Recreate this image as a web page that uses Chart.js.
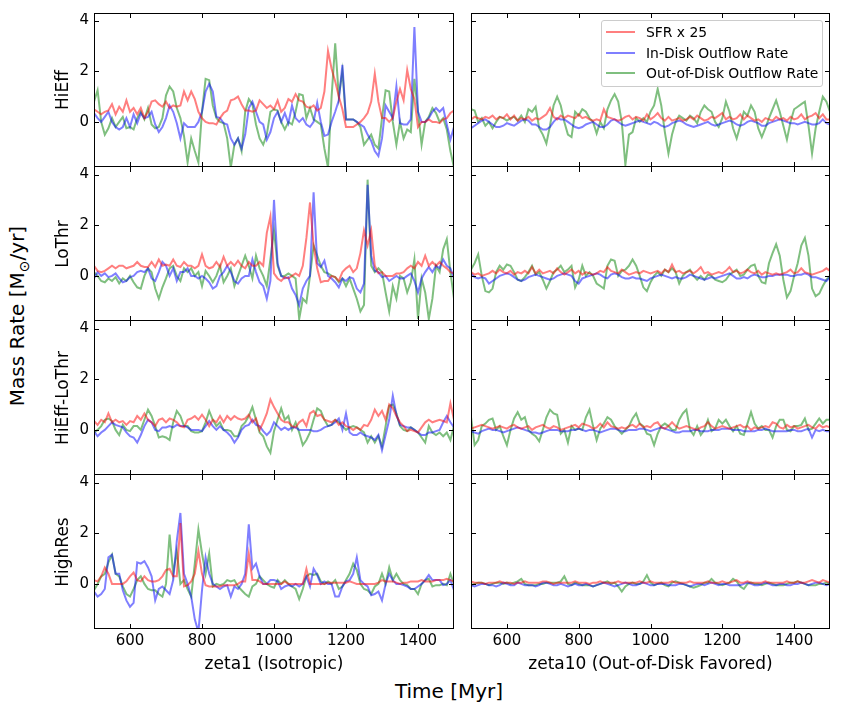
<!DOCTYPE html>
<html>
<head>
<meta charset="utf-8">
<script src="https://cdn.jsdelivr.net/npm/chart.js@4.4.1/dist/chart.umd.min.js"></script>
<style>
  body { margin: 0; background: #fff; }
  #fig { position: relative; width: 848px; height: 708px; font-family: 'DejaVu Sans', sans-serif; color: #000; overflow: hidden; }
  .panel { position: absolute; }
  .label { position: absolute; white-space: nowrap; font-size: 20px; transform: translate(-50%, -50%); }
  #ylabel { left: 18px; top: 316px; transform: translate(-50%, -50%) rotate(-90deg); }
  #xlabel { left: 449px; top: 691px; }
  #ylabel sub { font-size: 0.7em; }
  #legend { position: absolute; left: 601px; top: 20px; width: 220px; height: 65px; border: 1px solid #cccccc;
            border-radius: 3px; background: rgba(255,255,255,0.8); font-size: 13.9px; z-index: 5; }
  .entry { position: absolute; left: 4px; height: 20px; display: flex; align-items: center; }
  .swatch { width: 29px; height: 2px; margin-right: 11px; }
</style>
</head>
<body>
<div id="fig">
  <div class="label" id="ylabel">Mass Rate [M<sub>⊙</sub>/yr]</div>
  <div class="label" id="xlabel">Time [Myr]</div>
  <div id="legend"></div>
</div>
<script>
// time axis (Myr)
const times = [500, 510, 520, 530, 540, 550, 560, 570, 580, 590,
  600, 610, 620, 630, 640, 650, 660, 670, 680, 690,
  700, 710, 720, 730, 740, 750, 760, 770, 780, 790,
  800, 810, 820, 830, 840, 850, 860, 870, 880, 890,
  900, 910, 920, 930, 940, 950, 960, 970, 980, 990,
  1000, 1010, 1020, 1030, 1040, 1050, 1060, 1070, 1080, 1090,
  1100, 1110, 1120, 1130, 1140, 1150, 1160, 1170, 1180, 1190,
  1200, 1210, 1220, 1230, 1240, 1250, 1260, 1270, 1280, 1290,
  1300, 1310, 1320, 1330, 1340, 1350, 1360, 1370, 1380, 1390,
  1400, 1410, 1420, 1430, 1440, 1450, 1460, 1470, 1480, 1490,
  1500];

const rowNames = ['HiEff', 'LoThr', 'HiEff-LoThr', 'HighRes'];
const columnTitles = ['zeta1 (Isotropic)', 'zeta10 (Out-of-Disk Favored)'];
const seriesNames = ['SFR x 25', 'In-Disk Outflow Rate', 'Out-of-Disk Outflow Rate'];
const xTicks = [600, 800, 1000, 1200, 1400];
const yTicks = [0, 2, 4];

// ---- zeta1 (Isotropic) ----
const sfrHiEffIso = [0.5, 0.4, 0.3, 0.4, 0.45, 0.7, 0.3, 0.6, 0.4, 0.85,
  0.4, 0.55, 0.3, 0.55, 0.15, 0.4, 0.8, 0.85, 0.7, 0.6,
  0.8, 0.55, 0.65, 0.6, 0.65, 1.2, 0.85, 1.2, 0.9, 0.4,
  0.15, 0, -0.05, -0.05, -0.1, 0.15, 0.35, 0.45, 0.85, 0.9,
  1.0, 0.7, 0.45, 0.45, 0.4, 0.45, 0.85, 0.7, 0.55, 0.65,
  0.5, 0.85, 0.4, 0.55, 0.9, 0.8, 1.1, 0.85, 0.8, 0.6,
  0.55, 0.65, 0.45, 0.55, 1.2, 2.8, 2.1, 1.6, 1.0, 0.5,
  -0.2, -0.2, -0.2, -0.1, 0, 0.15, 0.35, 0.8, 1.9, 0.8,
  0.15, 0.15, 0, 0.15, 0.8, 1.3, 0.85, 2.05, 1.3, 0.9,
  -0.2, 0, 0, 0.1, 0, 0, -0.05, 0.1, 0.15, 0.35,
  0.45];
const inDiskHiEffIso = [0.35, 0.15, 0, 0.2, 0.4, 0, -0.2, -0.3, -0.2, 0.15,
  -0.2, 0.3, -0.05, 0.35, 0.15, 0.2, 0.4, -0.1, -0.4, -0.2,
  0.15, 0.65, 0.4, -0.05, -0.65, -0.05, -0.2, -0.2, -0.2, 0,
  0.4, 1.2, 1.5, 1.2, 0.2, 0.15, -0.05, -0.1, -0.65, -0.9,
  -0.65, -1.05, -0.5, 0.55, 0.8, 0.4, 0, -0.1, -0.7, -0.4,
  0.15, 0.4, 0, 0.35, -0.05, 0.65, 0.15, 0, 0.15, -0.1,
  -0.2, 0, 0.75, 0, -0.55, -0.5, 0, 0.4, 0.85, 2.25,
  0.1, 0.1, 0.1, 0, -0.1, -0.2, -0.5, -0.75, -1.15, -1.35,
  -0.65, 0.65, 0.4, 0.15, 1.4, -0.05, -0.1, -0.1, 0.1, 3.75,
  0.4, 0, 0, 0.15, 0.4, 0.55, 0.4, 0.55, -0.1, -0.7,
  -0.2];
const outDiskHiEffIso = [0.8, 1.25, 0, -0.5, -0.25, 0.15, -0.2, 0, 0.2, -0.25,
  -0.2, -0.3, 0.15, 0.4, 0.1, 0.55, -0.1, -0.25, -0.2, 0.15,
  1.05, 1.4, 1.2, 0.55, 0.15, -0.55, -1.6, -0.65, -1.15, -1.6,
  0.4, 1.7, 1.65, 0.65, 0.15, 0, -0.05, -0.65, -1.8, -0.9,
  -0.65, -1.15, 0.4, 0.9, 0.7, -0.1, -0.65, -0.9, -0.5, 0.4,
  0.5, 0.45, 0, -0.3, 0, -0.1, 0.4, 1.1, 1.05, 0.15,
  0.55, 0.1, 0, -0.1, -1.05, -1.8, 1.0, 3.1, 1.0, 2.0,
  0.1, 0.1, 0.1, 0, -0.2, -0.9, -0.7, -0.5, -0.9, -1.05,
  0.15, 1.25, 1.2, 0, -0.9, 0, -0.65, -0.3, -0.4, 1.7,
  0.4, -0.9, 0, 0.2, 0.55, 0.35, 0, 0.15, -0.3, -1.15,
  -1.8];

const sfrLoThrIso = [0.4, 0.2, 0.15, 0.2, 0.3, 0.4, 0.3, 0.4, 0.4, 0.3,
  0.35, 0.4, 0.55, 0.4, 0.35, 0.35, 0.55, 0.35, 0.65, 0.4,
  0.45, 0.4, 0.65, 0.4, 0.35, 0.55, 0.4, 0.4, 0.3, 0.4,
  0.85, 0.4, 0.3, 0.35, 0.55, 0.35, 0.75, 0.4, 0.55, 0.4,
  0.6, 0.4, 0.3, 0.55, 0.4, 0.4, 0.55, 0.4, 1.7, 2.35,
  0.1, -0.1, -0.2, -0.05, -0.1, 0, 0.1, 0, 0.4, 1.5,
  2.9, 1.2, 0.3, -0.25, -0.2, -0.2, 0, -0.05, -0.2, 0.15,
  0.3, 0.4, 0.15, 0.3, 0.9, 1.8, 1.2, 1.8, 0.4, 0.1,
  0.15, 0, 0, 0, 0.1, 0.1, 0.15, 0.3, 0.4, 0.3,
  0.55, 0.4, 0.8, 0.4, 0.55, 0.4, 0.55, 0.4, 0.3, 0.15,
  0.1];
const inDiskLoThrIso = [-0.1, 0.15, 0, 0.1, -0.05, 0, 0.1, -0.1, -0.25, -0.2,
  -0.05, 0, 0.15, 0.2, 0.15, 0.3, -0.1, -0.2, 0.15, 0.55,
  0.4, 0, 0.3, -0.2, 0.15, 0.15, 0.3, 0, 0, -0.1,
  0, -0.1, -0.25, -0.5, -0.4, 0, 0.15, 0.4, 0.15, -0.2,
  -0.3, -0.1, 0, 0, 0.65, 0.15, -0.25, -0.4, -0.9, -0.2,
  3.0, 0.5, 0, -0.1, -0.05, -0.5, -0.75, -1.15, -0.5, -0.2,
  0, 3.3, 0.5, 0.35, 0.6, 0, -0.1, -0.25, -0.45, -0.1,
  -0.2, -0.05, -0.1, -0.5, -0.65, -0.3, 3.6, 0.8, 0.2, 0.15,
  -0.05, 0, -0.2, -0.1, 0, -0.1, -0.1, 0, 0.1, -0.2,
  -0.65, -0.1, 0.15, 0.35, 0.15, 0.4, 0.3, 0.65, 0.4, 0.3,
  -0.1];
const outDiskLoThrIso = [0.15, 0, -0.2, -0.25, -0.1, -0.2, -0.05, -0.3, -0.1, -0.2,
  0, -0.25, -0.45, -0.5, 0, 0.3, 0.15, -0.5, -0.9, -0.45,
  -0.1, 0.3, 0.4, 0, -0.2, 0.3, 0.15, 0.3, 0, 0.15,
  -0.4, 0.2, 0, -0.25, 0, 0.4, -0.25, 0, 0.3, -0.4,
  0, 0.4, 0.8, 0.4, -0.1, 0.8, 0.3, 0, -0.4, 0.65,
  1.8, 0.4, 0, 0, 0.1, 0, -0.1, -1.7, -0.9, -1.05,
  0, 1.2, 0.8, 0.4, 0.15, 0.1, 0, -0.05, -0.25, -0.1,
  -0.4, -0.1, -0.5, -0.9, -1.4, -1.15, 3.8, 0.4, 0.15, 0.3,
  0.15, -0.65, -1.4, -0.4, -0.9, 0, -0.1, -0.65, -0.25, 0.65,
  -1.7, -0.1, -0.65, -1.7, -0.9, 0.4, 0.15, 1.05, 1.45, 0.15,
  -0.9];

const sfrHiEffLoThrIso = [0.35, 0.2, 0.4, 0.3, 0.65, 0.3, 0.4, 0.3, 0.35, 0.2,
  0.35, 0.3, 0.55, 0.4, 0.65, 0.4, 0.3, 0.15, 0.4, 0.45,
  0.3, 0.45, 0.4, 0.3, 0.15, 0.1, 0.4, 0.45, 0.55, 0.4,
  0.6, 0.4, 0.15, 0.4, 0.3, 0.55, 0.3, 0.55, 0.4, 0.55,
  0.45, 0.4, 0.45, 0.6, 0.3, 0.45, 0, 0.3, 0.65, 1.2,
  0.9, 0.65, 0.4, 0.3, 0.3, 0.15, 0.1, 0.3, 0.4, 0.15,
  0.65, 0.75, 0.55, 0.6, 0.4, 0.35, 0.3, 0.4, 0.2, 0.3,
  0.15, 0.1, 0, 0.1, 0, 0.2, 0.15, 0.4, 0.8, 0.55,
  0.75, 0.4, 1.0, 0.85, 0.55, 0.3, 0.15, -0.05, 0, -0.05,
  -0.1, 0.1, 0.3, 0.4, 0.3, 0.35, 0.4, 0.35, 0.3, 1.05,
  0.4];
const inDiskHiEffLoThrIso = [-0.05, -0.25, -0.1, 0, 0.15, 0.3, 0.2, 0.15, 0.1, -0.1,
  -0.25, -0.3, -0.5, -0.2, 0.15, 0.4, 0.3, 0, -0.05, 0.1,
  0.1, 0.15, 0.1, 0.2, 0.15, 0.15, 0.1, 0, 0, 0,
  -0.05, 0.15, 0.35, 0.15, 0, 0.15, 0, -0.1, -0.25, -0.5,
  -0.3, 0, 0.15, 0.2, 0.4, 0.2, 0.15, -0.05, -0.2, -0.05,
  0.3, 0.15, 0, 0.1, 0, 0.1, 0.1, 0, 0, 0,
  0, -0.05, -0.05, 0, 0.1, 0.15, 0.2, 0.3, 0.45, 0,
  0.65, -0.1, -0.2, -0.2, -0.1, -0.2, -0.25, -0.3, -0.4, -0.2,
  -0.8, -0.2, 0.4, 1.35, 0.6, 0.2, 0.15, 0.1, 0.1, 0,
  -0.1, -0.2, -0.2, -0.1, -0.1, -0.05, 0, 0.3, 0.55, 0.3,
  0.1];
const outDiskHiEffLoThrIso = [-0.1, 0, 0.15, 0.4, 0.45, 0.35, 0, -0.2, 0.2, 0,
  -0.05, 0.15, 0.15, 0, 0.4, 0.8, 0.55, 0.15, -0.3, -0.25,
  -0.3, -0.4, 0.3, 0.75, 0.55, 0.15, 0.15, -0.05, -0.1, -0.1,
  -0.05, 0.3, 0.75, 0.4, 0.15, 0.3, 0, 0, -0.05, -0.25,
  -0.25, 0.15, 0.3, 0.55, 0.9, 0.4, -0.1, -0.25, -0.65, -0.9,
  -0.05, 0.4, 0.85, 0.4, 0.55, 0, 0.3, -0.1, -0.6, -0.4,
  -0.1, 0.4, 0.85, 0.75, 0.4, 0.15, 0.2, 0.4, 0.3, 0.15,
  0, 0.1, 0.15, 0.1, 0, -0.1, -0.5, -0.25, -0.5, -0.25,
  -0.65, 0.15, 0.95, 1.0, 0.65, 0.15, 0, -0.05, 0.1, 0,
  -0.1, -0.3, -0.5, 0.15, -0.1, -0.2, -0.1, -0.25, -0.1, -0.4,
  0.15];

const sfrHighResIso = [0.15, 0.1, 0.3, 0.65, 0.4, 0, 0, 0, 0, 0.1,
  0.3, 0.45, 0.15, 0.1, 0.3, 0.15, 0.1, 0.1, 0.15, 0.3,
  0.55, 0.6, 0.3, 0.3, 2.4, -0.1, -0.05, 0.1, 0.4, 1.3,
  0.4, -0.05, -0.1, -0.1, -0.1, -0.1, -0.05, -0.05, -0.05, -0.05,
  0, 0.1, 0.1, 1.2, 0.15, 0.15, 0.1, 0, 0, 0,
  0, 0, 0, 0.1, 0, 0, 0, 0, 0, 0.6,
  0, 0, 0, 0, 0, 0.05, 0.05, 0.05, 0.05, 0.05,
  0.05, 0.1, 0.05, 0, 0, 0, 0, 0, 0, 0.05,
  0.15, 0.1, 0.1, 0.1, 0.05, 0, 0.05, 0.05, 0.1, 0.1,
  0.1, 0.15, 0.1, 0.1, 0.1, 0.15, 0.15, 0.15, 0.2, 0.15,
  0.1];
const inDiskHighResIso = [-0.3, -0.5, -0.4, -0.2, 1.05, 1.15, 0.4, 0.4, -0.25, -0.65,
  -0.9, -0.75, 0.85, 0.8, 0.9, 0.65, 0.3, -0.65, -0.2, -0.1,
  -0.25, -0.4, 0.15, 1.7, 2.8, 0.4, 0, -0.5, -1.4, -1.9,
  -0.25, 1.05, 0.4, 0, -0.1, -0.2, -0.1, -0.05, -0.5, -0.1,
  -0.2, 0, 0.4, 2.35, 0.6, 0.8, 0.3, 0, 0, 0.15,
  0.15, 0.1, -0.2, -0.1, -0.05, -0.1, 0, -0.1, 0, 0.3,
  -0.1, 0.6, 0.35, 0, 0.1, 0, 0, -0.5, -0.5, -0.1,
  0.1, 0.15, 0.4, 1.05, 0.15, 0, -0.1, -0.45, -0.4, -0.3,
  -0.65, 0, 0.4, 0.15, 0, 0, -0.05, -0.1, -0.2, -0.2,
  -0.1, 0, 0.15, 0.35, 0.15, 0.15, 0.15, -0.05, 0, 0.15,
  -0.25];
const outDiskHighResIso = [-0.25, 0, 0.3, 0.4, 0.85, 1.15, 0.4, 0.3, -0.1, -0.4,
  -0.5, -0.2, 0.15, 0.3, 0, -0.2, -0.25, -0.25, -0.4, -0.5,
  0, 1.95, 0.4, 1.3, 0, 0.15, -0.2, -0.5, 0.8, 2.15,
  1.2, 0.4, 1.2, -0.1, 0, -0.05, 0, 0.15, 0.1, 0.15,
  -0.1, -0.25, -0.4, -0.5, -0.1, 0, 0.3, 0.15, 0, -0.1,
  -0.15, 0.15, 0, 0.15, 0, -0.1, -0.2, -0.6, -0.2, 0.3,
  0.4, 0.35, 0.4, 0.1, 0, 0.1, 0, 0.15, -0.2, -0.1,
  0.15, 0.4, 0.8, 0.55, 0, -0.2, -0.25, -0.4, -0.1, 0,
  0.4, 0, 0.65, 0.15, 0.4, 0.15, 0, -0.05, -0.2, -0.2,
  -0.4, 0, 0.15, 0.2, -0.1, -0.05, -0.05, 0, -0.05, 0.4,
  0];

// ---- zeta10 (Out-of-Disk Favored) ----
const sfrHiEffFav = [0.1, 0.2, 0.15, 0.1, 0.2, 0.15, 0.25, 0.1, 0.2, 0.15,
  0.3, 0.1, 0.25, 0.05, 0.15, 0.1, 0.2, 0.05, 0.15, 0.1,
  0.2, 0.3, 0.55, 0.2, 0.1, 0.25, 0.15, 0.25, 0.2, 0.15,
  0.3, 0.15, 0.2, 0.1, 0.05, 0.1, 0.05, 0.5, 0.2, 0.15,
  0.1, 0.05, 0.1, 0.2, 0.25, 0.1, 0.2, 0.15, 0.05, 0.3,
  0.1, 0.2, 0.35, 0.15, 0.05, 0.2, 0.05, 0.1, 0.15, 0.05,
  0.1, 0.2, 0.1, 0.25, 0.15, 0.05, 0.1, 0.2, 0.15, 0.25,
  0.35, 0.1, 0.2, 0.1, 0.15, 0.3, 0.1, 0.25, 0.15, 0.05,
  0.1, 0, 0.15, 0.1, 0.05, 0.2, 0.1, 0.15, 0.05, 0.2,
  0.1, 0.15, 0.3, 0.1, 0.2, 0.25, 0.35, 0.15, 0.3, 0.1,
  0.1];
const inDiskHiEffFav = [-0.25, -0.15, -0.05, 0.05, 0.1, 0, -0.1, -0.2, -0.2, -0.15,
  -0.05, -0.1, -0.15, -0.05, 0.05, 0.1, 0.05, -0.1, -0.1, -0.2,
  -0.3, -0.3, -0.2, 0, 0.15, 0.1, 0.1, 0, -0.1, -0.2,
  -0.25, -0.2, -0.1, -0.05, 0, -0.1, -0.2, -0.2, -0.1, 0.05,
  0.1, 0, -0.1, -0.15, -0.1, -0.05, 0, 0.05, 0, -0.05,
  -0.1, 0, -0.05, -0.15, -0.2, -0.15, -0.05, 0, 0.05, 0,
  -0.1, -0.15, -0.2, -0.15, -0.1, -0.05, 0, -0.1, -0.15, -0.1,
  -0.05, 0, 0.05, 0, -0.1, -0.15, -0.1, 0, 0.05, 0,
  -0.05, -0.15, -0.15, -0.05, 0, 0.05, 0.1, 0.05, 0, -0.05,
  -0.05, -0.1, -0.05, 0, -0.05, -0.1, -0.1, -0.05, 0.1, -0.05,
  -0.1];
const outDiskHiEffFav = [0.5, 0.45, 0, 0.15, -0.15, 0, -0.25, 0, 0.2, 0.15,
  0.05, 0.15, 0.2, 0.05, 0.25, 0, 0.5, 0.4, 0.6, -0.25,
  -0.5, -0.85, -0.15, 0.65, 1.0, 0.65, 0, -0.5, -0.6, 0.4,
  0.25, 0.5, 0.4, 0.15, 0, -0.45, 0, -0.25, 0.5, 0.85,
  1.1, 0.8, 0, -1.7, -0.5, -0.4, 0.15, 0, 0.15, 0,
  0.4, 0.65, 1.3, 0.65, -0.4, -1.25, -0.5, 0, 0.25, 0.15,
  0.05, 0.25, 0.15, -0.05, 0.4, 0.65, 0.5, 0.4, 0, -0.2,
  0.15, 0.8, 0.4, -0.25, -0.65, -0.15, 0.4, 0.25, 0.65, 0.4,
  -0.25, -0.6, -0.25, 0.15, 0.5, 0.85, 0.4, -0.15, -0.7, 0,
  0.5, 0.6, 0.7, 0.8, -0.15, -1.25, -0.25, 0.4, 1.0, 0.8,
  0.4];

const sfrLoThrFav = [0.15, 0.05, 0.1, 0, 0.05, 0.1, 0.2, 0.1, 0.25, 0.15,
  0.1, 0.2, 0.05, 0.15, 0.1, 0.2, 0.1, 0.35, 0.1, 0.25,
  0.1, 0.15, 0.2, 0.1, 0.3, 0.15, 0.05, 0.15, 0.25, 0.1,
  0.2, 0.05, 0.15, 0.1, 0.05, 0.1, 0.2, 0.15, 0.35, 0.2,
  0.15, 0.1, 0.25, 0.15, 0.05, 0.1, 0.15, 0.1, 0.2, 0.15,
  0.1, 0.15, 0.2, 0.1, 0.25, 0.15, 0.45, 0.15, 0.2, 0.1,
  0.15, 0.2, 0.1, 0.2, 0.35, 0.1, 0.15, 0.05, 0.1, 0.15,
  0.1, 0.2, 0.35, 0.15, 0.2, 0.1, 0.15, 0.25, 0.15, 0.1,
  0.2, 0.05, 0.15, 0.1, 0.05, 0.1, 0.05, 0.1, 0.15, 0.25,
  0.1, 0.15, 0.3, 0.15, 0.1, 0.05, 0.1, 0.15, 0.2, 0.3,
  0.2];
const inDiskLoThrFav = [0.1, -0.05, -0.1, -0.05, -0.1, -0.3, -0.2, -0.1, 0, 0.05,
  0.1, 0.05, -0.05, -0.15, -0.2, -0.15, -0.05, 0, 0.05, 0,
  -0.05, -0.1, -0.15, -0.1, 0, 0.05, 0.1, 0.05, 0, -0.2,
  -0.3, -0.1, -0.05, 0, 0.05, 0.1, 0.05, -0.05, -0.1, 0.05,
  0.1, 0.05, -0.05, -0.1, -0.1, -0.05, -0.1, -0.1, -0.15, -0.2,
  -0.1, -0.05, 0, 0.05, 0, -0.05, -0.1, -0.05, -0.1, -0.1,
  -0.05, 0.05, 0, -0.05, -0.1, -0.15, -0.1, -0.05, -0.1, -0.05,
  0, 0.05, 0.1, 0, -0.1, -0.1, -0.05, -0.1, 0, 0.05,
  0, -0.05, -0.05, 0, 0, 0.05, 0.05, 0.05, 0.05, 0,
  0, 0.05, 0.05, 0.1, 0.05, -0.05, -0.05, -0.1, -0.15, -0.2,
  -0.05];
const outDiskLoThrFav = [0.25, 0.5, 0.85, 0, -0.6, -0.65, -0.5, 0.15, 0.4, 0.25,
  0.45, 0.4, 0.15, -0.15, -0.2, -0.05, 0.15, 0.4, 0.05, 0.15,
  -0.15, -0.5, -0.2, 0.15, 0.25, 0.4, 0.15, 0.25, 0.4, -0.45,
  -0.15, 0.4, 0, 0.15, 0, -0.3, -0.4, -0.5, 0.4, 0.65,
  0.6, 0, 0.2, 0.25, 0.4, 0.65, 0.4, 0, -0.45, -0.6,
  -0.25, 0, 0.15, 0, 0.25, 0.15, 0.3, 0.15, -0.3, 0,
  0.15, 0.25, 0, -0.15, 0, -0.15, 0.05, 0, -0.15, -0.2,
  -0.25, -0.15, 0.05, 0.15, 0.25, 0, 0.05, 0.25, 0.4, 0.45,
  0, -0.25, -0.3, 0.5, 0.9, 1.25, 0.8, -0.15, -0.85, -0.6,
  0, 0.5, 1.2, 1.5, 0.8, -0.5, -0.8, -0.7, -0.4, -0.15,
  0];

const sfrHiEffLoThrFav = [0.05, 0.1, 0.15, 0.2, 0.15, 0.1, 0.05, 0.1, 0.15, 0.1,
  0.05, 0.15, 0.2, 0.1, 0.05, 0.1, 0.15, 0, 0.1, 0.15,
  0.2, 0.1, 0.05, 0.15, 0.1, 0, 0.05, 0.1, 0.15, 0.2,
  0.1, 0.25, 0.2, 0.15, 0.05, 0.1, 0.25, 0.1, 0.3, 0.15,
  0.1, 0.05, 0.1, 0.05, 0.15, 0.2, 0.1, 0.25, 0.1, 0.15,
  0.1, 0.25, 0.3, 0.1, 0.05, 0.15, 0.3, 0.15, 0.05, 0.1,
  0.15, 0.1, 0.05, 0, 0.1, 0.15, 0.3, 0.15, 0.05, 0.1,
  0.15, 0.1, 0.05, 0.1, 0.15, 0.2, 0.1, 0.15, 0, 0.1,
  0.05, 0.1, 0.15, 0.1, 0.3, 0.25, 0.1, 0.05, 0.2, 0.1,
  0.15, 0.05, 0.1, 0.15, 0.2, 0.1, 0.05, 0.2, 0.1, 0.15,
  0.1];
const inDiskHiEffLoThrFav = [-0.05, -0.1, -0.15, -0.05, 0, 0.05, 0, 0, -0.05, -0.1,
  -0.05, 0, 0.05, 0.1, 0.05, 0, -0.05, -0.1, -0.1, -0.15,
  -0.1, -0.05, 0, 0, 0, -0.05, -0.05, -0.05, 0, 0,
  0.05, 0, -0.05, 0, 0, -0.05, -0.1, -0.05, 0, 0.05,
  0.05, 0, -0.05, -0.05, 0, 0, 0, 0.05, 0.05, 0,
  -0.05, 0, 0.05, 0.1, 0.05, 0, -0.05, -0.1, -0.1, -0.05,
  -0.05, -0.05, 0, 0, -0.05, -0.05, -0.05, 0, 0, 0,
  0.05, 0.05, 0.05, 0, 0, 0, -0.05, -0.05, -0.05, -0.05,
  0, 0, 0.05, 0, -0.05, -0.05, -0.05, -0.05, -0.05, 0,
  0, -0.05, -0.05, 0, 0.05, -0.3, 0, -0.05, 0, -0.05,
  -0.05];
const outDiskHiEffLoThrFav = [0.5, -0.6, -0.4, 0.15, 0.25, 0.4, 0.45, 0, 0.15, -0.25,
  -0.6, 0, 0.45, 0.7, 0.4, 0.5, 0, -0.15, -0.25, -0.45,
  0, 0.5, 0.8, 0.65, 0.6, -0.15, 0, -0.5, 0.15, 0,
  0.05, 0, 0.5, 0.8, 0.15, -0.4, 0.05, 0.25, 0.5, 0.4,
  0.15, 0, -0.15, 0, 0.15, 0.45, 0.65, 0.25, 0.15, -0.15,
  -0.2, -0.6, -0.15, 0.15, 0.25, 0.15, 0, 0, 0.4, 0.65,
  0.8, 0, -0.2, 0.15, -0.2, 0, 0.4, -0.05, 0.05, 0.4,
  0.25, 0.4, 0.15, -0.05, 0.15, -0.15, -0.2, 0.25, 0.7, 0.25,
  0.05, 0.15, 0, 0, -0.3, 0.15, 0.4, 0.4, 0, -0.05,
  0.15, 0.15, 0.2, 0.45, 0, 0.05, 0.25, 0.45, 0.25, 0.4,
  0.4];

const sfrHighResFav = [0.1, 0.05, 0.05, 0.05, 0, 0.05, 0.05, 0.05, 0.1, 0.05,
  0.05, 0.05, 0, 0.05, 0.05, 0.1, 0.05, 0.05, 0.05, 0.05,
  0.1, 0.1, 0.05, 0, 0.05, 0.05, 0.05, 0.05, 0.05, 0.1,
  0.05, 0.05, 0.05, 0, 0.05, 0.05, 0.1, 0.05, 0.05, 0.05,
  0.05, 0.1, 0.05, 0.05, 0.05, 0.05, 0.05, 0.1, 0.05, 0.05,
  0.1, 0.05, 0.05, 0.05, 0.05, 0.05, 0.1, 0.05, 0.05, 0.05,
  0.05, 0.1, 0.05, 0.05, 0.05, 0.05, 0.1, 0.05, 0.05, 0.05,
  0.1, 0.05, 0.05, 0.1, 0.15, 0.05, 0.05, 0.1, 0.05, 0.05,
  0.05, 0.05, 0.1, 0.05, 0.05, 0.05, 0.05, 0.05, 0.1, 0.05,
  0.05, 0.1, 0.05, 0.05, 0.1, 0.15, 0.1, 0.05, 0.15, 0.1,
  0.05];
const inDiskHighResFav = [-0.05, -0.1, -0.05, 0, 0, -0.05, -0.05, -0.1, -0.05, 0.05,
  0, -0.05, -0.05, 0.05, 0, -0.05, -0.05, -0.05, -0.1, -0.05,
  0.05, 0.05, 0, -0.05, -0.05, 0, -0.05, -0.1, -0.05, 0,
  -0.05, -0.05, 0, -0.05, -0.1, -0.05, 0, 0.05, 0, -0.05,
  -0.1, -0.05, 0, 0.05, 0, -0.05, -0.05, 0, 0.05, 0,
  -0.05, -0.05, 0, 0, 0, -0.05, -0.05, -0.05, 0, 0,
  -0.05, -0.1, -0.05, 0, 0, -0.05, 0, 0.05, 0, -0.05,
  0, 0, -0.05, -0.05, -0.05, -0.05, 0, 0.05, 0, -0.05,
  -0.05, 0, 0.05, 0, -0.05, -0.05, 0, 0, -0.05, -0.05,
  0, 0, 0.05, 0, -0.05, 0, 0.05, 0.05, 0, -0.05,
  0];
const outDiskHighResFav = [-0.05, 0, 0.05, 0.05, 0, -0.05, 0, 0.05, 0.05, 0,
  0.05, 0, 0.05, 0.1, 0.2, 0, -0.05, -0.05, -0.05, 0,
  0, 0.05, 0.05, 0.05, 0.05, 0.1, 0.3, 0, -0.05, 0.05,
  0, -0.05, -0.05, -0.05, -0.1, -0.05, 0, 0.05, 0.1, 0,
  0.05, -0.1, -0.3, -0.1, 0, 0.05, 0, 0, 0.1, 0.35,
  0.05, -0.05, 0, 0.05, -0.05, -0.1, 0.05, 0.1, 0.05, 0,
  -0.05, -0.1, -0.15, -0.1, -0.05, 0.05, 0.05, 0.2, 0.05, 0,
  -0.05, 0, 0.05, 0.2, 0.1, -0.1, -0.2, 0, 0.05, 0,
  0, -0.05, 0, 0.05, 0, -0.05, -0.05, -0.05, 0, 0.05,
  0.05, 0.1, 0.05, 0, -0.05, -0.05, -0.05, 0, 0, 0.05,
  0];

// rows x columns, each cell: [SFR, in-disk, out-of-disk]
const panelData = [
  [[sfrHiEffIso, inDiskHiEffIso, outDiskHiEffIso], [sfrHiEffFav, inDiskHiEffFav, outDiskHiEffFav]],
  [[sfrLoThrIso, inDiskLoThrIso, outDiskLoThrIso], [sfrLoThrFav, inDiskLoThrFav, outDiskLoThrFav]],
  [[sfrHiEffLoThrIso, inDiskHiEffLoThrIso, outDiskHiEffLoThrIso], [sfrHiEffLoThrFav, inDiskHiEffLoThrFav, outDiskHiEffLoThrFav]],
  [[sfrHighResIso, inDiskHighResIso, outDiskHighResIso], [sfrHighResFav, inDiskHighResFav, outDiskHighResFav]]
];

// styles / layout
const colors = ['rgba(255,0,0,0.5)', 'rgba(0,0,255,0.5)', 'rgba(0,128,0,0.5)'];
const yMin = -1.78, yMax = 4.3;
const plotLeft = [94, 471], plotWidth = [360, 359];
const plotTop = 13, plotHeight = 154;
const yAxisWidth = 94, xAxisHeight = 60;

Chart.defaults.font.family = "'DejaVu Sans', sans-serif";
Chart.defaults.color = '#000';

// matplotlib-like frame with inward ticks on all four sides
// (rows below the first skip their top edge, the row above already drew it)
const frameTicks = {
  id: 'frameTicks',
  afterDraw(chart, args, opts) {
    const { ctx, chartArea: a, scales: { x, y } } = chart;
    const len = 5;
    const top = opts.skipTop ? a.top - 0.5 : a.top + 0.5;
    ctx.save();
    ctx.strokeStyle = '#000';
    ctx.lineWidth = 1;
    ctx.beginPath();
    xTicks.forEach(v => {
      const px = Math.round(x.getPixelForValue(v)) + 0.5;
      ctx.moveTo(px, a.top); ctx.lineTo(px, a.top + len);
      ctx.moveTo(px, a.bottom); ctx.lineTo(px, a.bottom - len);
    });
    yTicks.forEach(v => {
      const py = Math.round(y.getPixelForValue(v)) + 0.5;
      ctx.moveTo(a.left, py); ctx.lineTo(a.left + len, py);
      ctx.moveTo(a.right, py); ctx.lineTo(a.right - len, py);
    });
    // frame
    if (!opts.skipTop) { ctx.moveTo(a.left, top); ctx.lineTo(a.right, top); }
    ctx.moveTo(a.left, a.bottom - 0.5); ctx.lineTo(a.right, a.bottom - 0.5);
    ctx.moveTo(a.left + 0.5, a.top); ctx.lineTo(a.left + 0.5, a.bottom);
    ctx.moveTo(a.right - 0.5, a.top); ctx.lineTo(a.right - 0.5, a.bottom);
    ctx.stroke();
    ctx.restore();
  }
};

function zeroPadding(s) {
  s.paddingLeft = 0; s.paddingRight = 0; s.paddingTop = 0; s.paddingBottom = 0;
}

function makePanel(row, col) {
  const isLeft = col === 0;
  const isBottom = row === rowNames.length - 1;
  const left = isLeft ? 0 : plotLeft[1];
  const w = isLeft ? plotLeft[0] + plotWidth[0] : plotWidth[1];
  const h = plotHeight + (isBottom ? xAxisHeight : 0);

  const div = document.createElement('div');
  div.className = 'panel';
  div.style.left = left + 'px';
  div.style.top = (plotTop + row * plotHeight) + 'px';
  div.style.width = w + 'px';
  div.style.height = h + 'px';
  const canvas = document.createElement('canvas');
  canvas.width = w;
  canvas.height = h;
  div.appendChild(canvas);
  document.getElementById('fig').appendChild(div);

  const datasets = panelData[row][col].map((vals, k) => ({
    label: seriesNames[k],
    data: vals.map((v, i) => ({ x: times[i], y: v })),
    borderColor: colors[k],
    borderWidth: 2,
    pointRadius: 0,
    tension: 0,
    fill: false,
    clip: 0
  }));

  new Chart(canvas, {
    type: 'line',
    data: { datasets },
    options: {
      responsive: false,
      animation: false,
      events: [],
      layout: { padding: 0 },
      plugins: {
        legend: { display: false },
        tooltip: { enabled: false },
        frameTicks: { skipTop: row > 0 }
      },
      scales: {
        x: {
          type: 'linear', min: 500, max: 1500,
          display: isBottom,
          afterBuildTicks: s => { s.ticks = xTicks.map(v => ({ value: v })); },
          afterFit: s => { s.height = isBottom ? xAxisHeight : 0; zeroPadding(s); },
          grid: { display: false, drawTicks: false },
          border: { display: false },
          ticks: { font: { size: 15 }, padding: 3, maxRotation: 0, autoSkip: false, callback: v => String(v) },
          title: { display: true, text: columnTitles[col], font: { size: 17 }, padding: { top: 0, bottom: 14 } }
        },
        y: {
          type: 'linear', min: yMin, max: yMax,
          display: isLeft,
          afterBuildTicks: s => { s.ticks = yTicks.map(v => ({ value: v })); },
          afterFit: s => { s.width = isLeft ? yAxisWidth : 0; zeroPadding(s); },
          grid: { display: false, drawTicks: false },
          border: { display: false },
          ticks: { font: { size: 15 }, padding: 5, callback: v => String(v) },
          title: { display: true, text: rowNames[row], font: { size: 17 }, padding: { top: 53, bottom: 0 } }
        }
      }
    },
    plugins: [frameTicks]
  });
}

for (let r = 0; r < rowNames.length; r++) {
  for (let c = 0; c < columnTitles.length; c++) makePanel(r, c);
}

// legend inside the top-right panel
const legend = document.getElementById('legend');
seriesNames.forEach((name, k) => {
  const e = document.createElement('div');
  e.className = 'entry';
  e.style.top = (1 + k * 20.7) + 'px';
  e.innerHTML = '<span class="swatch" style="background:' + colors[k] + '"></span><span>' + name + '</span>';
  legend.appendChild(e);
});
</script>
</body>
</html>
